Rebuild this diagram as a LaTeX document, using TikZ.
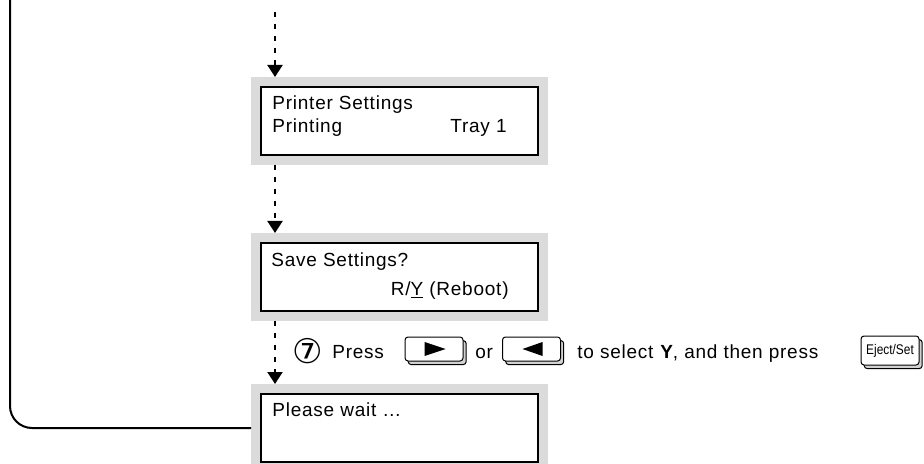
\documentclass[tikz,border=0pt]{standalone}
\usepackage{fontspec}
\setmainfont{Liberation Sans}[LetterSpace=4]
\newfontfamily\symfont{DejaVu Sans}
\newfontfamily\keyfont{Liberation Sans}[FakeStretch=0.85]
\usetikzlibrary{arrows.meta, positioning, shadows}
\definecolor{panelgray}{gray}{0.86}
\definecolor{keygray}{gray}{0.82}

\begin{document}
\begin{tikzpicture}[x=0.5pt, y=-0.5pt,
    node distance=44pt,
lcd/.style = {draw, line width=1.2pt, fill=white, outer sep=0pt, inner sep=0pt,
              minimum width=138.5pt, minimum height=34pt,
              preaction={draw=panelgray, line width=10pt}},
txt/.style = {inner sep=0pt, anchor=base west},
txe/.style = {inner sep=0pt, anchor=base east},
key/.style = {draw, line width=0.5pt, fill=white, rounded corners=1.5pt,
              minimum width=29pt, minimum height=12pt, inner sep=0pt,
              drop shadow={opacity=1, fill=keygray, draw=black, line width=0.5pt,
                           shadow xshift=1.6pt, shadow yshift=-1.8pt}},
ar/.style  = {line width=1pt, dash pattern=on 2.5pt off 3.5pt,
              -{Triangle[width=7.5pt,length=6pt]}},
     font = \fontsize{9.5}{11}\selectfont
                        ]
\useasboundingbox (0,0) rectangle (924,464);
\clip (0,0) rectangle (924,464);
% display panels
\node (p1) [lcd] at (399.5,121) {};
\node (p2) [lcd,below=of p1]    {};
\node (p3) [lcd,below=41.5pt of p2] {};
%
\node (t1) [txt] at ([shift={(5.5pt,-11.5pt)}]p1.north west)  {Printer Settings};
\node (t2) [txt] at ([shift={(5.5pt,-23pt)}]p1.north west)    {Printing};
\node (t3) [txe] at ([shift={(-15.5pt,-23pt)}]p1.north east)  {Tray 1};
\node (t4) [txt] at ([shift={(5pt,-12pt)}]p2.north west)      {Save Settings?};
\node (t5) [txe] at ([shift={(-14.5pt,-26pt)}]p2.north east)  {R/\underline{Y} (Reboot)};
\node (t6) [txt] at ([shift={(5.5pt,-11pt)}]p3.north west)    {Please wait \dots};
% flow
\coordinate (start) at (275,12);
\coordinate (back)  at (10,-5);
\draw[ar] (start) -- ([shift={(7pt,5pt)}]p1.north west);
\draw[ar] ([shift={(7pt,-5pt)}]p1.south west) -- ([shift={(7pt,5pt)}]p2.north west);
\draw[ar] ([shift={(7pt,-5pt)}]p2.south west) -- ([shift={(7pt,5pt)}]p3.north west);
\draw[line width=1pt, rounded corners=11pt] (back) |- ([xshift=-5pt]p3.west);
% step 7
\node (n7)    at (307.5,351)      {\symfont\fontsize{17}{17}\selectfont ⑦};
\node (press) [txt] at (332,358)  {Press};
\node (k1)    [key] at (434,349)  {};
\node (or)    [txt] at (475,358)  {or};
\node (k2)    [key] at (531.5,349) {};
\node (sel)   [txt] at (577,358)  {to select \textbf{Y}, and then press};
\node (k3)    [key, minimum height=14.5pt] at (890,350.5)
              {\keyfont\fontsize{7}{7}\selectfont Eject/Set};
\fill ([shift={(-4.75pt,3.5pt)}]k1.center) -- ++(10.5pt,-3.5pt) -- ++(-10.5pt,-3.5pt) -- cycle;
\fill ([shift={(5.5pt,3.5pt)}]k2.center) -- ++(-10pt,-3.5pt) -- ++(10pt,-3.5pt) -- cycle;
    \end{tikzpicture}
\end{document}
